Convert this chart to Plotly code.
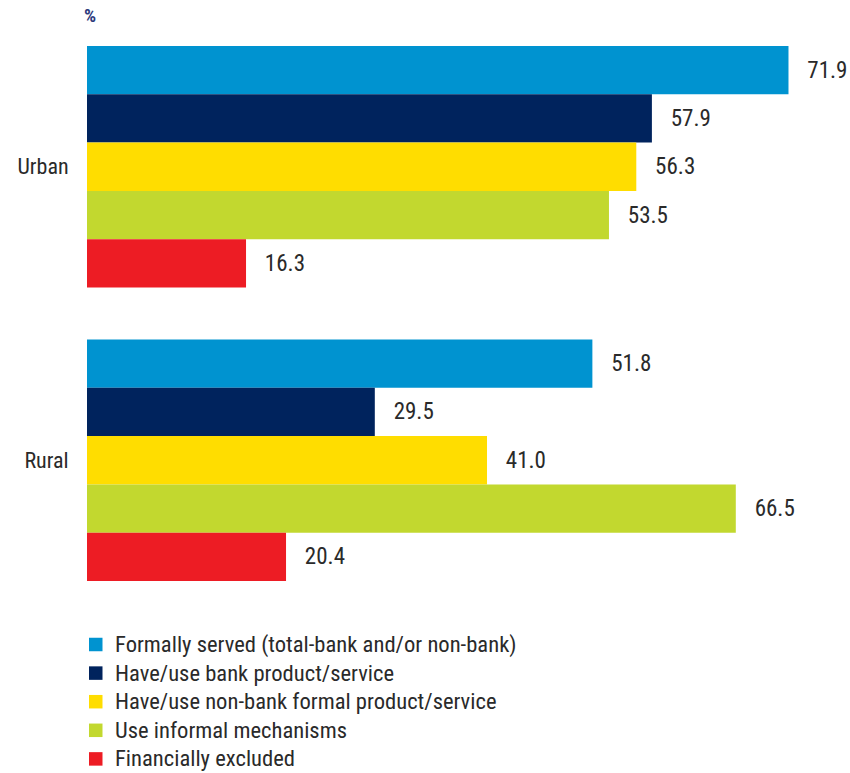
import plotly.graph_objects as go

# Share of adults by area and financial access category (%)
areas = ["Urban", "Rural"]
series_names = [
    "Formally served (total-bank and/or non-bank)",
    "Have/use bank product/service",
    "Have/use non-bank formal product/service",
    "Use informal mechanisms",
    "Financially excluded",
]
formally_served = [71.9, 51.8]
bank = [57.9, 29.5]
non_bank_formal = [56.3, 41.0]
informal = [53.5, 66.5]
excluded = [16.3, 20.4]

series_values = [formally_served, bank, non_bank_formal, informal, excluded]
colors = ["#0093D0", "#00235D", "#FFDD00", "#C2D82F", "#ED1C24"]

FONT = "Roboto Condensed, Liberation Sans Narrow, Arial Narrow, sans-serif"
TEXT_COLOR = "#2a2a2a"

W, H = 850, 773
M_L, M_R, M_T, M_B = 87, 2, 20, 166
plot_w = W - M_L - M_R
plot_h = H - M_T - M_B

fig = go.Figure()
for name, vals, col in zip(series_names, series_values, colors):
    fig.add_trace(go.Bar(
        y=areas,
        x=vals,
        name=name,
        orientation="h",
        marker=dict(color=col, line=dict(width=0)),
        texttemplate="\u00a0\u00a0\u00a0%{x:.1f}",
        textposition="outside",
        outsidetextfont=dict(family=FONT, size=23, color=TEXT_COLOR),
        constraintext="none",
        cliponaxis=False,
        showlegend=False,
        hoverinfo="skip",
    ))


def px_x(px):
    return (px - M_L) / plot_w


def px_y(py):
    return (H - M_B - py) / plot_h


# Legend drawn as square swatches with labels below the bars
shapes = []
annotations = []
legend_top = 644.5
legend_step = 28.6
for i, (name, col) in enumerate(zip(series_names, colors)):
    cy = legend_top + i * legend_step
    shapes.append(dict(
        type="rect", xref="paper", yref="paper",
        x0=px_x(89), x1=px_x(102.5), y0=px_y(cy - 6.75), y1=px_y(cy + 6.75),
        fillcolor=col, line=dict(width=0),
    ))
    annotations.append(dict(
        xref="paper", yref="paper", x=px_x(113), y=px_y(cy),
        xanchor="left", yanchor="middle", showarrow=False,
        text=name, font=dict(family=FONT, size=22.6, color=TEXT_COLOR),
    ))

annotations.append(dict(
    xref="paper", yref="paper", x=px_x(82), y=px_y(16),
    xanchor="left", yanchor="middle", showarrow=False,
    text="<b>%</b>", font=dict(family=FONT, size=19, color="#2E3B7D"),
))

fig.update_layout(
    width=W, height=H,
    margin=dict(l=M_L, r=M_R, t=M_T, b=M_B),
    paper_bgcolor="white", plot_bgcolor="white",
    barmode="group",
    bargap=0.177,
    bargroupgap=0,
    xaxis=dict(range=[0, 78], visible=False, fixedrange=True),
    yaxis=dict(
        autorange="reversed",
        showgrid=False, zeroline=False, showline=False,
        ticks="outside", ticklen=13, tickcolor="rgba(0,0,0,0)",
        tickfont=dict(family=FONT, size=22, color=TEXT_COLOR),
        fixedrange=True,
    ),
    shapes=shapes,
    annotations=annotations,
)

fig.write_html("out.html")
